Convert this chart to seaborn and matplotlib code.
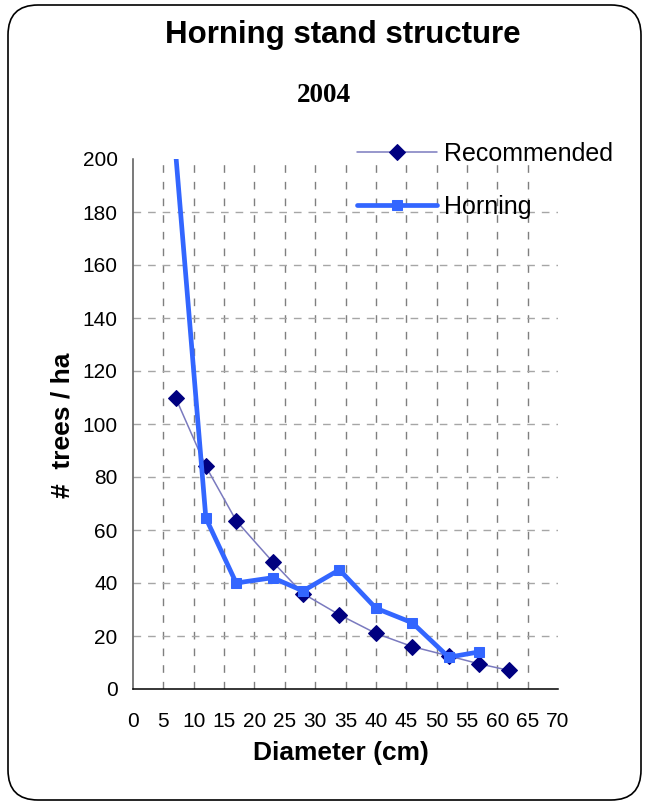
import matplotlib
matplotlib.use("Agg")
import matplotlib.pyplot as plt
import matplotlib.patches as mpatches
import matplotlib.transforms as mtransforms
import seaborn as sns
import pandas as pd

# ---- data ----
rec_diam = [7, 12, 17, 23, 28, 34, 40, 46, 52, 57, 62]
rec_trees = [110, 84, 63.5, 48, 36, 28, 21, 16, 12.5, 9.5, 7]
hor_diam = [7, 12, 17, 23, 28, 34, 40, 46, 52, 57]
hor_trees = [203, 64.5, 40, 42, 37, 45, 30.5, 25, 12, 14]
x_ticks = list(range(0, 75, 5))
y_ticks = list(range(0, 220, 20))

title = "Horning stand structure"
subtitle = "2004"
xlabel = "Diameter (cm)"
ylabel = "#  trees / ha"

sns.set_style("white")
plt.rcParams['font.family'] = ['Liberation Sans', 'DejaVu Sans']
plt.rcParams['text.color'] = 'black'
plt.rcParams['axes.labelcolor'] = 'black'
plt.rcParams['xtick.color'] = 'black'
plt.rcParams['ytick.color'] = 'black'

fig = plt.figure(figsize=(6.49, 8.06), dpi=100)
ax = fig.add_axes([133/649, 1-689/806, 425/649, 530/806])

rec_df = pd.DataFrame({"d": rec_diam, "n": rec_trees})
hor_df = pd.DataFrame({"d": hor_diam, "n": hor_trees})

sns.lineplot(data=rec_df, x="d", y="n", ax=ax, color="#7a7abf", linewidth=1.1,
             marker="D", markersize=8.5, markerfacecolor="#000080",
             markeredgecolor="#000080", label="Recommended", zorder=3)
sns.lineplot(data=hor_df, x="d", y="n", ax=ax, color="#3366ff", linewidth=3.4,
             marker="s", markersize=7.5, markerfacecolor="#3366ff",
             markeredgecolor="#3366ff", label="Horning", zorder=4)

ax.set_xlim(0, 70)
ax.set_ylim(0, 200)
ax.set_xticks(x_ticks)
ax.set_yticks(y_ticks)
ax.set_xticklabels([str(v) for v in x_ticks])
ax.set_yticklabels([str(v) for v in y_ticks])

ax.tick_params(axis='both', direction='inout', length=9, width=1.1,
               labelsize=15, colors='black')
ax.tick_params(axis='y', pad=6.5)
ax.tick_params(axis='x', pad=12)

ax.grid(True, axis='x', color='#7f7f7f', linestyle=(0, (5.5, 6.5)), linewidth=1)
ax.grid(True, axis='y', color='#a6a6a6', linestyle=(0, (5.5, 5)), linewidth=1)
xgl = ax.get_xgridlines()
xgl[0].set_visible(False)
xgl[-1].set_visible(False)
ygl = ax.get_ygridlines()
ygl[0].set_visible(False)
ygl[-1].set_visible(False)
ax.set_axisbelow(True)

for s in ['top', 'right']:
    ax.spines[s].set_visible(False)
ax.spines['left'].set_color('#555555')
ax.spines['left'].set_linewidth(1.1)
ax.spines['bottom'].set_color('black')
ax.spines['bottom'].set_linewidth(1.1)

ax.set_xlabel(xlabel, fontsize=19, fontweight='bold', va='center', color='black')
ax.xaxis.set_label_coords((341-133)/425, (689-753)/530)
ax.set_ylabel(ylabel, fontsize=19, fontweight='bold', va='center', color='black')
ax.yaxis.set_label_coords((62-133)/425, (689-425)/530)

fig.text(343/649, 1-35/806, title, fontsize=22.5, fontweight='bold',
         ha='center', va='center', color='black')
fig.text(324/649, 1-95/806, subtitle, fontsize=19.5, fontweight='bold',
         ha='center', va='center', color='black',
         family=['Liberation Serif', 'DejaVu Serif'])

handles, labels = ax.get_legend_handles_labels()
leg = ax.legend(handles, labels, loc='upper left', bbox_to_anchor=(357/649, 1-142/806),
                bbox_transform=fig.transFigure, frameon=False, fontsize=18,
                handlelength=3.2, handletextpad=0.3, labelspacing=1.15,
                borderpad=0, borderaxespad=0)
for t in leg.get_texts():
    t.set_color('black')

border = mpatches.FancyBboxPatch((8, 6), 633, 795,
                                 boxstyle="round,pad=0,rounding_size=30",
                                 transform=mtransforms.IdentityTransform(),
                                 facecolor='none', edgecolor='black', linewidth=1.2)
fig.patches.append(border)

fig.savefig("out.png", dpi=100)
